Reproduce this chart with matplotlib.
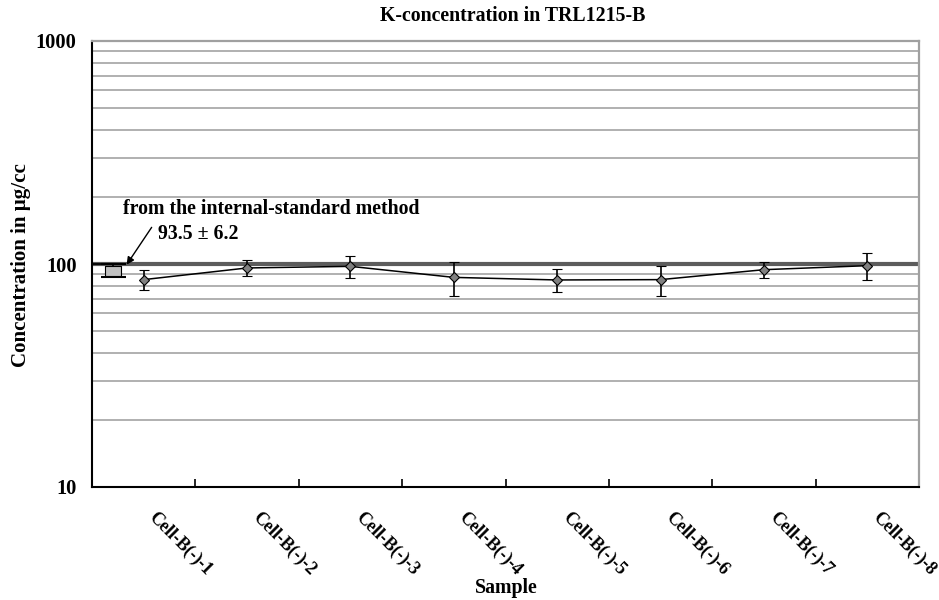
import matplotlib
matplotlib.use("Agg")
import matplotlib.pyplot as plt
import matplotlib.transforms as mtransforms
from matplotlib.path import Path
from matplotlib.ticker import FixedLocator, FixedFormatter, NullFormatter
import numpy as np

# ---- data -------------------------------------------------------------
samples = ["Cell-B(-)-1", "Cell-B(-)-2", "Cell-B(-)-3", "Cell-B(-)-4",
           "Cell-B(-)-5", "Cell-B(-)-6", "Cell-B(-)-7", "Cell-B(-)-8"]
concentration = [85.1, 96.0, 97.6, 87.1, 84.8, 85.1, 94.3, 98.3]   # µg/cc
uncertainty = [8.6, 7.9, 11.5, 15.3, 10.2, 13.2, 8.1, 13.2]        # ± µg/cc

internal_std_value = 93.5
internal_std_error = 6.2

y_ticks = [10, 100, 1000]
y_tick_labels = ["10", "100", "1000"]
y_minor = [20, 30, 40, 50, 60, 70, 80, 90,
           200, 300, 400, 500, 600, 700, 800, 900]

# ---- style ------------------------------------------------------------
plt.rcParams["font.family"] = ["Liberation Serif", "DejaVu Serif"]
plt.rcParams["font.weight"] = "bold"
plt.rcParams["axes.labelweight"] = "bold"
plt.rcParams["font.size"] = 14.3

W, H = 939, 600
fig = plt.figure(figsize=(W / 100, H / 100), dpi=100)
ax = fig.add_axes([92 / W, 113 / H, 827 / W, 446 / H])

x = np.arange(len(samples))
ax.set_yscale("log")
ax.set_xlim(-0.5, len(samples) - 0.5)
ax.set_ylim(y_ticks[0], y_ticks[-1])

# y axis ticks and grid
ax.yaxis.set_major_locator(FixedLocator(y_ticks))
ax.yaxis.set_major_formatter(FixedFormatter(y_tick_labels))
ax.yaxis.set_minor_locator(FixedLocator(y_minor))
ax.yaxis.set_minor_formatter(NullFormatter())
ax.tick_params(axis="y", which="major", direction="in", length=7, width=1.3,
               pad=11, labelsize=14.8)
ax.tick_params(axis="y", which="minor", length=0)
ax.grid(which="minor", axis="y", color="#a3a3a3", lw=1.2, zorder=1)
for t in y_ticks[1:-1]:
    ax.axhline(t, color="#5c5c5c", lw=3, zorder=1.5)

# x axis: labels at category centres, tick marks at boundaries
ax.set_xticks(x)
ax.set_xticklabels(samples, rotation=-45, ha="left", va="top",
                   rotation_mode="anchor", fontsize=13)
ax.set_xticks(np.arange(len(samples) - 1) + 0.5, minor=True)
ax.tick_params(axis="x", which="major", length=0, pad=15.5)
ax.tick_params(axis="x", which="minor", direction="in", length=6, width=1.2,
               color="black")
shift = mtransforms.ScaledTranslation(14 / 100, 0, fig.dpi_scale_trans)
for lbl in ax.get_xticklabels():
    lbl.set_transform(lbl.get_transform() + shift)

# spines
for side in ("left", "bottom"):
    ax.spines[side].set_color("black")
    ax.spines[side].set_linewidth(1.5)
for side in ("top", "right"):
    ax.spines[side].set_color("#a0a0a0")
    ax.spines[side].set_linewidth(1.6)

# measured concentrations
ax.errorbar(x, concentration, yerr=uncertainty, fmt="-", color="black",
            lw=1.1, marker="D", ms=5.5, mfc="#808080", mec="black", mew=0.8,
            ecolor="black", elinewidth=1.2, capsize=3.5, capthick=1.3,
            zorder=4)

# internal-standard value shown as a grey box with error caps
std_pos = -0.3
box = Path([(-0.75, -0.5), (0.75, -0.5), (0.75, 0.5), (-0.75, 0.5),
            (-0.75, -0.5)],
           [Path.MOVETO, Path.LINETO, Path.LINETO, Path.LINETO,
            Path.CLOSEPOLY])
ax.errorbar([std_pos], [internal_std_value], yerr=[internal_std_error],
            fmt="none", ecolor="black", elinewidth=1.2, capsize=9,
            capthick=1.5, zorder=4)
ax.plot([std_pos], [internal_std_value], linestyle="none", marker=box,
        ms=11, mfc="#c0c0c0", mec="black", mew=0.8, zorder=5)

ax.annotate("", xy=(-0.165, 99.3), xytext=(0.077, 146),
            arrowprops=dict(arrowstyle="-|>", color="black", lw=1.0,
                            mutation_scale=11, shrinkA=0, shrinkB=0),
            zorder=6)
ax.text(-0.2, 167.7, "from the internal-standard method",
        ha="left", va="baseline", zorder=6)
ax.text(0.138, 129.7, f"{internal_std_value} \u00b1 {internal_std_error}",
        ha="left", va="baseline", zorder=6)

# titles
fig.text(513 / W, 1 - 21 / H, "K-concentration in TRL1215-B",
         ha="center", va="baseline")
ax.set_ylabel("Concentration in \u03bcg/cc", fontweight="bold", fontsize=15.1)
ax.yaxis.label.set_va("center")
ax.yaxis.set_label_coords((21 - 92) / 827, (487 - 265) / 446)
fig.text(506 / W, 1 - 588 / H, "Sample", ha="center", va="center")

fig.savefig("out.png", dpi=100)
